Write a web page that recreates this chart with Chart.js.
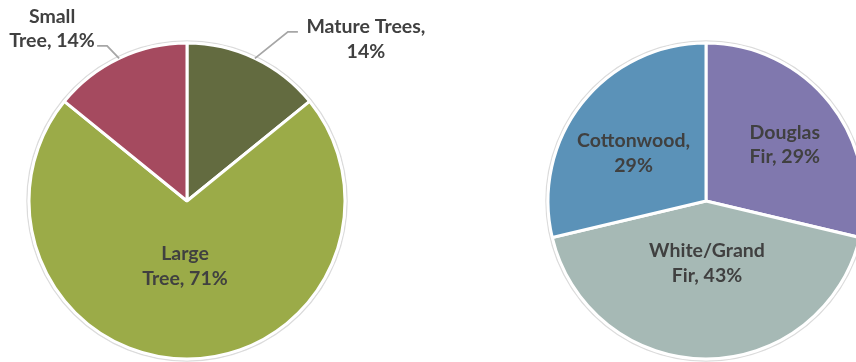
<!DOCTYPE html>
<html>
<head>
<meta charset="utf-8">
<script src="https://cdn.jsdelivr.net/npm/chart.js@4.4.1/dist/chart.umd.min.js"></script>
<style>
  html, body { margin: 0; padding: 0; background: #fff; overflow: hidden; }
  #wrap { position: relative; width: 856px; height: 362px; overflow: hidden; }
  canvas { position: absolute; top: 0; }
  #leftPie { left: 0; }
  #rightPie { left: 428px; }
</style>
</head>
<body>
<div id="wrap">
  <canvas id="leftPie" width="428" height="362"></canvas>
  <canvas id="rightPie" width="428" height="362"></canvas>
</div>
<script>
// tree size classes (percent)
const sizeLabels = ['Mature Trees', 'Large Tree', 'Small Tree'];
const sizeValues = [14, 71, 14];
const sizeColors = ['#636B40', '#9BAB48', '#A54A5F'];

// species (percent)
const speciesLabels = ['Douglas Fir', 'White/Grand Fir', 'Cottonwood'];
const speciesValues = [29, 43, 29];
const speciesColors = ['#8078AE', '#A6B9B5', '#5B92B8'];

const FONT = 'bold 19.5px Lato, "Open Sans", sans-serif';
const TEXT_COLOR = '#404040';
const LINE_GAP = 24.5;
const TEXT_DROP = 2; // middle baseline sits a bit high in Lato

// faint ring behind the pie plus the "Name, NN%" labels
function sliceLabels(layout) {
    return {
        id: 'sliceLabels',
        beforeDatasetsDraw(chart) {
            const arc = chart.getDatasetMeta(0).data[0];
            if (!arc) return;
            const ctx = chart.ctx;
            ctx.save();
            ctx.beginPath();
            ctx.arc(arc.x, arc.y, arc.outerRadius + 2, 0, Math.PI * 2);
            ctx.strokeStyle = 'rgba(0,0,0,0.14)';
            ctx.lineWidth = 1.5;
            ctx.stroke();
            ctx.restore();
        },
        afterDatasetsDraw(chart) {
            const ctx = chart.ctx;
            const meta = chart.getDatasetMeta(0);
            const values = chart.data.datasets[0].data;
            ctx.save();
            ctx.font = FONT;
            ctx.fillStyle = TEXT_COLOR;
            ctx.textAlign = 'center';
            ctx.textBaseline = 'middle';

            meta.data.forEach((arc, i) => {
                const words = (chart.data.labels[i] + ', ' + values[i] + '%').split(' ');
                const lines = [words.slice(0, layout.wrap[i]).join(' '), words.slice(layout.wrap[i]).join(' ')];
                const mid = (arc.startAngle + arc.endAngle) / 2;
                const R = arc.outerRadius;
                let cx, cy;

                const call = layout.callouts ? layout.callouts[i] : null;
                if (call) {
                    // leader line from the slice edge
                    const ex = arc.x + Math.cos(mid) * R;
                    const ey = arc.y + Math.sin(mid) * R;
                    const bx = ex + call.elbow[0], by = ey + call.elbow[1];
                    ctx.beginPath();
                    ctx.moveTo(ex, ey);
                    ctx.lineTo(bx, by);
                    ctx.lineTo(bx + call.tail, by);
                    ctx.strokeStyle = '#A6A6A6';
                    ctx.lineWidth = 1.8;
                    ctx.stroke();
                    cx = ex + call.text[0];
                    cy = ey + call.text[1];
                } else {
                    const r = R * layout.radial[i];
                    const nudge = layout.nudge[i];
                    cx = arc.x + Math.cos(mid) * r + nudge[0];
                    cy = arc.y + Math.sin(mid) * r + nudge[1];
                }
                cy += TEXT_DROP;
                ctx.fillText(lines[0], cx, cy - LINE_GAP / 2);
                ctx.fillText(lines[1], cx, cy + LINE_GAP / 2);
            });
            ctx.restore();
        }
    };
}

function makePie(id, labels, values, colors, padding, layout) {
    return new Chart(document.getElementById(id), {
        type: 'pie',
        data: {
            labels: labels,
            datasets: [{
                data: values,
                backgroundColor: colors,
                borderColor: '#ffffff',
                borderWidth: 3,
                hoverOffset: 0,
                radius: 158,
                clip: false
            }]
        },
        options: {
            responsive: false,
            animation: false,
            events: [],
            layout: { padding: padding },
            plugins: {
                legend: { display: false },
                tooltip: { enabled: false }
            }
        },
        plugins: [sliceLabels(layout)]
    });
}

makePie('leftPie', sizeLabels, sizeValues, sizeColors,
    { left: 0, right: 54, top: 40, bottom: 0 },
    {
        wrap: [2, 1, 1],
        radial: [0, 0.40, 0],
        nudge: [[0, 0], [-2, 0], [0, 0]],
        callouts: [
            { elbow: [33, -26.5], tail: 10, text: [111, -21] },
            null,
            { elbow: [-12, -12.5], tail: -10, text: [-67, -31.5] }
        ]
    });

makePie('rightPie', speciesLabels, speciesValues, speciesColors,
    { left: 128, right: 0, top: 40, bottom: 0 },
    {
        wrap: [1, 1, 1],
        radial: [0.615, 0.38, 0.56],
        nudge: [[2.5, 2], [1, 0], [-3, 5]]
    });
</script>
</body>
</html>
